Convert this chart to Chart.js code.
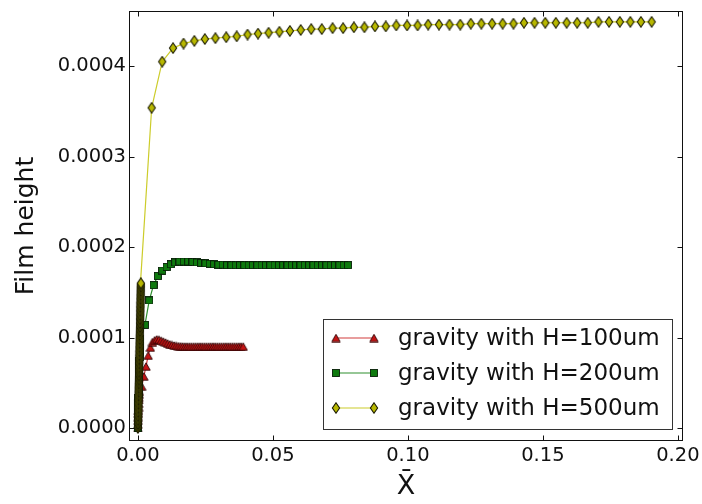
<!DOCTYPE html>
<html>
<head>
<meta charset="utf-8">
<script src="https://cdn.jsdelivr.net/npm/chart.js@4/dist/chart.umd.min.js"></script>
<style>
  html, body { margin: 0; padding: 0; background: #fff; }
  canvas { display: block; }
</style>
</head>
<body>
<canvas id="c" width="702" height="504"></canvas>
<script>
// Film height profiles along the normalised coordinate X̄ for three channel heights.

const seriesLabels = ['gravity with H=100um', 'gravity with H=200um', 'gravity with H=500um'];

const xTicks = [0.00, 0.05, 0.10, 0.15, 0.20];
const yTicks = [0.0000, 0.0001, 0.0002, 0.0003, 0.0004];

// H = 100 um
const h100X = [0, 0.00003, 0.00006, 0.0001, 0.00014, 0.00018, 0.00023, 0.00028, 0.00034, 0.0004, 0.00048, 0.00056,
  0.0014, 0.0022, 0.0030, 0.0038, 0.0046, 0.0054, 0.0062, 0.0070, 0.0078, 0.0086, 0.0094, 0.0102,
  0.0110, 0.0118, 0.0126, 0.0134, 0.0142, 0.0150, 0.0158, 0.0166, 0.0174, 0.0182, 0.0190, 0.0198,
  0.0206, 0.0214, 0.0222, 0.0230, 0.0238, 0.0246, 0.0254, 0.0262, 0.0270, 0.0278, 0.0286, 0.0294,
  0.0302, 0.0310, 0.0318, 0.0326, 0.0334, 0.0342, 0.0350, 0.0358, 0.0366, 0.0374, 0.0382, 0.0390];
const h100Y = [0, 0.000004, 0.000008, 0.000012, 0.000016, 0.000019, 0.000023, 0.000027, 0.000031, 0.000034, 0.000037, 0.00004,
  0.000046, 0.000057, 0.000068, 0.00008, 0.000089, 0.000095, 0.000097, 0.000098, 0.0000975, 0.0000965, 0.0000955, 0.0000945,
  0.0000935, 0.0000925, 0.0000918, 0.0000912, 0.0000908, 0.0000905, 0.0000903, 0.0000902, 0.00009, 0.00009, 0.00009, 0.00009,
  0.00009, 0.00009, 0.00009, 0.00009, 0.00009, 0.00009, 0.00009, 0.00009, 0.00009, 0.00009, 0.00009, 0.00009,
  0.00009, 0.00009, 0.00009, 0.00009, 0.00009, 0.00009, 0.00009, 0.00009, 0.00009, 0.00009, 0.00009, 0.00009];

// H = 200 um
const h200X = [0, 0.00003, 0.00006, 0.0001, 0.00013, 0.00017, 0.0002, 0.00024, 0.00028, 0.00032, 0.00036, 0.0004,
  0.00045, 0.0005, 0.00055, 0.0006, 0.00066, 0.00072, 0.0008, 0.0009,
  0.0026, 0.0042, 0.0058, 0.0074, 0.0090, 0.0106, 0.0122, 0.0138, 0.0154, 0.0170, 0.0186, 0.0202,
  0.0218, 0.0234, 0.0250, 0.0266, 0.0282, 0.0298, 0.0314, 0.0330, 0.0346, 0.0362, 0.0378, 0.0394,
  0.0410, 0.0426, 0.0442, 0.0458, 0.0474, 0.0490, 0.0506, 0.0522, 0.0538, 0.0554, 0.0570, 0.0586,
  0.0602, 0.0618, 0.0634, 0.0650, 0.0666, 0.0682, 0.0698, 0.0714, 0.0730, 0.0746, 0.0762, 0.0778];
const h200Y = [0, 0.000006, 0.000011, 0.000017, 0.000022, 0.000028, 0.000033, 0.000038, 0.000044, 0.000049, 0.000054, 0.000059,
  0.000064, 0.000069, 0.000074, 0.000079, 0.000084, 0.000088, 0.000093, 0.000098,
  0.000114, 0.000141, 0.000158, 0.000168, 0.000174, 0.000178, 0.000181, 0.000183, 0.000184, 0.000184, 0.000184, 0.0001835,
  0.000183, 0.0001825, 0.000182, 0.0001815, 0.000181, 0.0001805, 0.0001805, 0.00018, 0.00018, 0.00018, 0.00018, 0.00018,
  0.00018, 0.00018, 0.00018, 0.00018, 0.00018, 0.00018, 0.00018, 0.00018, 0.00018, 0.00018, 0.00018, 0.00018,
  0.00018, 0.00018, 0.00018, 0.00018, 0.00018, 0.00018, 0.00018, 0.00018, 0.00018, 0.00018, 0.00018, 0.00018];

// H = 500 um: dense inlet mesh first, then the main profile
const h500X = [
  0, 0.00001, 0.00002, 0.00003, 0.00004, 0.00005, 0.00006, 0.00007, 0.00008, 0.00009,
  0.0001, 0.00011, 0.00012, 0.00013, 0.00014, 0.00015, 0.00016, 0.00017, 0.00018, 0.00019,
  0.0002, 0.00021, 0.00022, 0.00023, 0.00024, 0.00025, 0.00026, 0.00027, 0.00028, 0.00029,
  0.0003, 0.00031, 0.00032, 0.00033, 0.00034, 0.00035, 0.00036, 0.00037, 0.00038, 0.00039,
  0.0004, 0.00041, 0.00042, 0.00043, 0.00044, 0.00045, 0.00046, 0.00047, 0.00048, 0.00049,
  0.0005, 0.00051, 0.00052, 0.00053, 0.00054, 0.00055, 0.00056, 0.00057, 0.00058, 0.00059,
  0.0006, 0.00061, 0.00062, 0.00063, 0.00064, 0.00065, 0.00066, 0.00067, 0.00068, 0.00069,
  0.0007, 0.00071, 0.00072, 0.00073, 0.00074, 0.00075, 0.00076, 0.00077, 0.00078, 0.00079,
  0.0008, 0.00081, 0.00082, 0.00083, 0.00084, 0.00085, 0.00086, 0.00087, 0.00088, 0.00089,
  0.0009, 0.00091, 0.00092, 0.00093, 0.00094, 0.00095, 0.00096, 0.00097, 0.00098, 0.00099,
  0.001, 0.00101, 0.00102, 0.00103, 0.00104, 0.00105, 0.00106, 0.00107, 0.00108, 0.00109,
  0.0051, 0.0090, 0.0130, 0.0169, 0.0209, 0.0248, 0.0287, 0.0327, 0.0366, 0.0406, 0.0445, 0.0484,
  0.0524, 0.0563, 0.0603, 0.0642, 0.0681, 0.0721, 0.0760, 0.0800, 0.0839, 0.0878, 0.0918, 0.0957,
  0.0997, 0.1036, 0.1075, 0.1115, 0.1154, 0.1194, 0.1233, 0.1272, 0.1312, 0.1351, 0.1391, 0.1430,
  0.1469, 0.1509, 0.1548, 0.1588, 0.1627, 0.1666, 0.1706, 0.1745, 0.1785, 0.1824, 0.1863, 0.1903];
const h500Y = [
  0, 1.5e-6, 2.9e-6, 4.4e-6, 5.9e-6, 7.3e-6, 8.8e-6, 10.3e-6, 11.8e-6, 13.2e-6,
  14.7e-6, 16.2e-6, 17.6e-6, 19.1e-6, 20.6e-6, 22.0e-6, 23.5e-6, 25.0e-6, 26.5e-6, 27.9e-6,
  29.4e-6, 30.9e-6, 32.3e-6, 33.8e-6, 35.3e-6, 36.7e-6, 38.2e-6, 39.7e-6, 41.2e-6, 42.6e-6,
  44.1e-6, 45.6e-6, 47.0e-6, 48.5e-6, 50.0e-6, 51.4e-6, 52.9e-6, 54.4e-6, 55.9e-6, 57.3e-6,
  58.8e-6, 60.3e-6, 61.7e-6, 63.2e-6, 64.7e-6, 66.1e-6, 67.6e-6, 69.1e-6, 70.6e-6, 72.0e-6,
  73.5e-6, 75.0e-6, 76.4e-6, 77.9e-6, 79.4e-6, 80.8e-6, 82.3e-6, 83.8e-6, 85.3e-6, 86.7e-6,
  88.2e-6, 89.7e-6, 91.1e-6, 92.6e-6, 94.1e-6, 95.5e-6, 97.0e-6, 98.5e-6, 100.0e-6, 101.4e-6,
  102.9e-6, 104.4e-6, 105.8e-6, 107.3e-6, 108.8e-6, 110.2e-6, 111.7e-6, 113.2e-6, 114.7e-6, 116.1e-6,
  117.6e-6, 119.1e-6, 120.5e-6, 122.0e-6, 123.5e-6, 124.9e-6, 126.4e-6, 127.9e-6, 129.4e-6, 130.8e-6,
  132.3e-6, 133.8e-6, 135.2e-6, 136.7e-6, 138.2e-6, 139.6e-6, 141.1e-6, 142.6e-6, 144.1e-6, 145.5e-6,
  147.0e-6, 148.5e-6, 149.9e-6, 151.4e-6, 152.9e-6, 154.3e-6, 155.8e-6, 157.3e-6, 158.8e-6, 160.0e-6,
  0.000354, 0.000405, 0.00042, 0.000425, 0.000428, 0.00043, 0.000431, 0.000432, 0.000433, 0.000435, 0.000436, 0.000437,
  0.000438, 0.000439, 0.00044, 0.000441, 0.000441, 0.000442, 0.000442, 0.000443, 0.000443, 0.000444, 0.000444, 0.000445,
  0.000445, 0.000445, 0.000446, 0.000446, 0.000446, 0.000446, 0.000447, 0.000447, 0.000447, 0.000447, 0.000447, 0.000448,
  0.000448, 0.000448, 0.000448, 0.000448, 0.000448, 0.000448, 0.000449, 0.000449, 0.000449, 0.000449, 0.000449, 0.000449];

const FONT = "'DejaVu Sans', 'Bitstream Vera Sans', sans-serif";

// Marker sprites with thin dark outlines
function sprite(w, h, draw) {
  const c = document.createElement('canvas');
  c.width = w; c.height = h;
  const g = c.getContext('2d');
  draw(g);
  return c;
}
const triMarker = sprite(10, 9, g => {
  g.beginPath(); g.moveTo(5, 0.8); g.lineTo(9.2, 8.2); g.lineTo(0.8, 8.2); g.closePath();
  g.fillStyle = '#c41414'; g.fill(); g.strokeStyle = '#300808'; g.lineWidth = 0.9; g.stroke();
});
const sqMarker = sprite(8, 8, g => {
  g.fillStyle = '#0e7a0e'; g.fillRect(0.5, 0.5, 7, 7);
  g.strokeStyle = '#082008'; g.lineWidth = 0.9; g.strokeRect(0.5, 0.5, 7, 7);
});
const dmMarker = sprite(10, 12, g => {
  g.beginPath(); g.moveTo(5, 0.8); g.lineTo(8.6, 6); g.lineTo(5, 11.2); g.lineTo(1.4, 6); g.closePath();
  g.fillStyle = '#b8b800'; g.fill(); g.strokeStyle = '#1a1a00'; g.lineWidth = 1.1; g.stroke();
});

const toPoints = (xs, ys) => xs.map((v, i) => ({ x: v, y: ys[i] }));

// Box frame with inward ticks on all four sides
const framePlugin = {
  id: 'frameTicks',
  afterDatasetsDraw(chart) {
    const { ctx, chartArea: a, scales: { x, y } } = chart;
    const L = Math.round(a.left) + 0.5, R = Math.round(a.right) - 0.5;
    const T = Math.round(a.top) + 0.5, B = Math.round(a.bottom) - 0.5;
    ctx.save();
    ctx.strokeStyle = '#111';
    ctx.lineWidth = 1;
    ctx.strokeRect(L, T, R - L, B - T);
    ctx.beginPath();
    const len = 5;
    x.ticks.forEach(t => {
      const p = Math.round(x.getPixelForValue(t.value)) + 0.5;
      ctx.moveTo(p, B); ctx.lineTo(p, B - len);
      ctx.moveTo(p, T); ctx.lineTo(p, T + len);
    });
    y.ticks.forEach(t => {
      const p = Math.round(y.getPixelForValue(t.value)) + 0.5;
      ctx.moveTo(L, p); ctx.lineTo(L + len, p);
      ctx.moveTo(R, p); ctx.lineTo(R - len, p);
    });
    ctx.stroke();
    ctx.restore();
  }
};

// Legend box in the lower right of the plot area, line sample with a marker at each end
const legendPlugin = {
  id: 'boxLegend',
  afterDraw(chart) {
    const { ctx, chartArea: a } = chart;
    const w = 349, h = 110;
    const right = a.right - 11, bottom = a.bottom - 12;
    const left = right - w, top = bottom - h;
    ctx.save();
    ctx.fillStyle = '#fff';
    ctx.fillRect(left, top, w, h);
    ctx.strokeStyle = '#333';
    ctx.lineWidth = 1;
    ctx.strokeRect(Math.round(left) + 0.5, Math.round(top) + 0.5, w, h);
    [0, 1, 2].forEach((di, row) => {
      const ds = chart.data.datasets[di];
      const cy = top + 19 + row * 35;
      const x0 = left + 13, x1 = left + 51;
      ctx.strokeStyle = ds.borderColor;
      ctx.lineWidth = ds.borderWidth;
      ctx.beginPath(); ctx.moveTo(x0, cy); ctx.lineTo(x1, cy); ctx.stroke();
      const img = ds.pointStyle;
      ctx.drawImage(img, x0 - img.width / 2, cy - img.height / 2);
      ctx.drawImage(img, x1 - img.width / 2, cy - img.height / 2);
      ctx.fillStyle = '#111';
      ctx.font = '23px ' + FONT;
      ctx.textBaseline = 'middle';
      ctx.textAlign = 'left';
      ctx.fillText(ds.label, left + 75, cy + 1);
    });
    ctx.restore();
  }
};

const tickFont = { family: FONT, size: 19.5 };

new Chart(document.getElementById('c'), {
  type: 'scatter',
  data: {
    datasets: [
      { label: seriesLabels[0], data: toPoints(h100X, h100Y), showLine: true,
        borderColor: '#d23c3c', borderWidth: 1.2, pointStyle: triMarker, pointRadius: 4, order: 3 },
      { label: seriesLabels[1], data: toPoints(h200X, h200Y), showLine: true,
        borderColor: '#2f8f2f', borderWidth: 1.2, pointStyle: sqMarker, pointRadius: 4, order: 2 },
      { label: seriesLabels[2], data: toPoints(h500X, h500Y), showLine: true,
        borderColor: '#cccc2a', borderWidth: 1.2, pointStyle: dmMarker, pointRadius: 4, order: 1 }
    ]
  },
  options: {
    responsive: false,
    animation: false,
    devicePixelRatio: 1,
    layout: { padding: { top: 11, right: 19, left: 0, bottom: 0 } },
    plugins: { legend: { display: false }, tooltip: { enabled: false } },
    scales: {
      x: {
        type: 'linear', min: -0.0033, max: 0.2019,
        afterBuildTicks: s => { s.ticks = xTicks.map(v => ({ value: v })); },
        ticks: { font: tickFont, color: '#111', padding: 3, maxRotation: 0, autoSkip: false,
                 callback: v => Number(v).toFixed(2) },
        grid: { display: false, drawTicks: false },
        border: { display: false },
        title: { display: true, text: 'X\u0304', color: '#111', font: { family: FONT, size: 27 },
                 padding: { top: 0, bottom: 1 } },
        afterFit: s => { s.height = 63; s.paddingLeft = 0; s.paddingRight = 0; }
      },
      y: {
        type: 'linear', min: -0.0000144, max: 0.000461,
        afterBuildTicks: s => { s.ticks = yTicks.map(v => ({ value: v })); },
        ticks: { font: tickFont, color: '#111', padding: 3, autoSkip: false,
                 callback: v => Number(v).toFixed(4) },
        grid: { display: false, drawTicks: false },
        border: { display: false },
        title: { display: true, text: 'Film height', color: '#111', font: { family: FONT, size: 25 },
                 padding: { top: 11, bottom: 0 } },
        afterFit: s => { s.width = 129; s.paddingTop = 0; s.paddingBottom = 0; }
      }
    }
  },
  plugins: [framePlugin, legendPlugin]
});
</script>
</body>
</html>
